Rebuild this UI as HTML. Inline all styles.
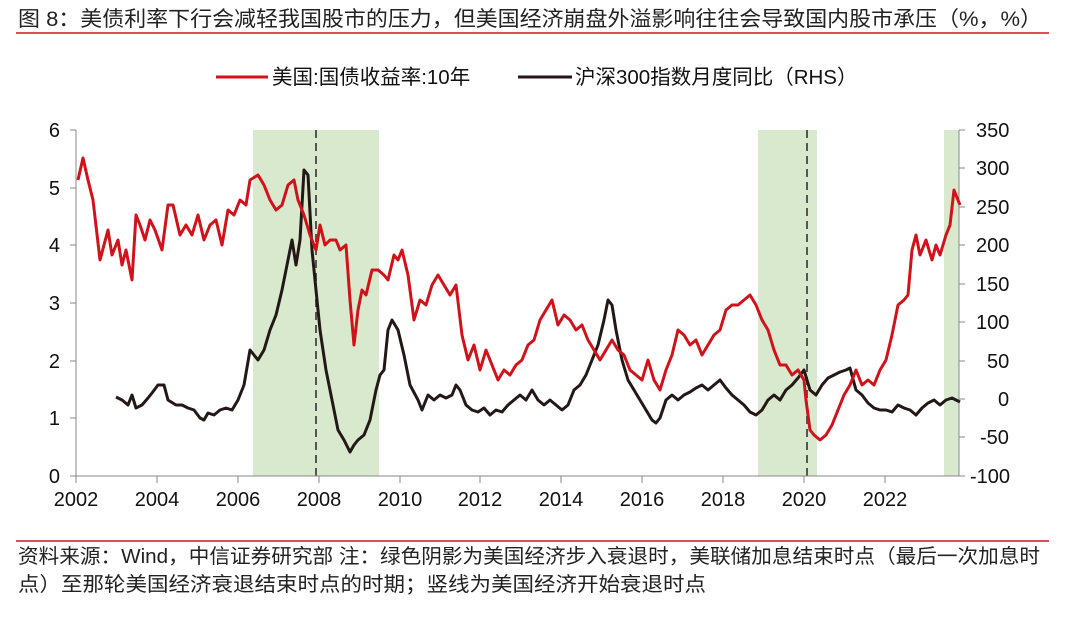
<!DOCTYPE html>
<html><head><meta charset="utf-8"><style>
body{margin:0;background:#fff;width:1080px;height:614px;overflow:hidden;font-family:"Liberation Sans","Noto Sans CJK SC",sans-serif}
svg text{font-family:"Liberation Sans","Noto Sans CJK SC",sans-serif}
</style></head><body>
<svg width="1080" height="614" viewBox="0 0 1080 614" xmlns="http://www.w3.org/2000/svg">
<text x="18" y="26" font-size="21" fill="#222" textLength="1024" lengthAdjust="spacingAndGlyphs">图 8：美债利率下行会减轻我国股市的压力，但美国经济崩盘外溢影响往往会导致国内股市承压（%，%）</text>
<line x1="16" y1="33" x2="1049" y2="33" stroke="#d0121b" stroke-width="1.5"/>
<line x1="216" y1="77" x2="268" y2="77" stroke="#d0121b" stroke-width="3"/>
<text x="272" y="84" font-size="20.5" fill="#111">美国:国债收益率:10年</text>
<line x1="518" y1="77" x2="572" y2="77" stroke="#231815" stroke-width="3"/>
<text x="575" y="84" font-size="20.5" fill="#111">沪深300指数月度同比（RHS）</text>
<rect x="253" y="130" width="126" height="346" fill="#d8e9cd"/>
<rect x="758" y="130" width="59" height="346" fill="#d8e9cd"/>
<rect x="944" y="130" width="15" height="346" fill="#d8e9cd"/>
<line x1="316" y1="130" x2="316" y2="476" stroke="#555" stroke-width="2" stroke-dasharray="8,5"/>
<line x1="807" y1="130" x2="807" y2="476" stroke="#555" stroke-width="2" stroke-dasharray="8,5"/>
<g stroke="#888" stroke-width="1" fill="none">
<line x1="76" y1="130" x2="76" y2="476"/><line x1="959" y1="130" x2="959" y2="476"/><line x1="70" y1="476" x2="965" y2="476"/>
<line x1="70" y1="130" x2="76" y2="130"/><line x1="70" y1="188" x2="76" y2="188"/><line x1="70" y1="245" x2="76" y2="245"/><line x1="70" y1="303" x2="76" y2="303"/><line x1="70" y1="361" x2="76" y2="361"/><line x1="70" y1="418" x2="76" y2="418"/>
<line x1="959" y1="130" x2="965" y2="130"/><line x1="959" y1="168" x2="965" y2="168"/><line x1="959" y1="207" x2="965" y2="207"/><line x1="959" y1="245" x2="965" y2="245"/><line x1="959" y1="284" x2="965" y2="284"/><line x1="959" y1="322" x2="965" y2="322"/><line x1="959" y1="361" x2="965" y2="361"/><line x1="959" y1="399" x2="965" y2="399"/><line x1="959" y1="437" x2="965" y2="437"/>
<line x1="76" y1="476" x2="76" y2="483"/><line x1="157" y1="476" x2="157" y2="483"/><line x1="238" y1="476" x2="238" y2="483"/><line x1="319" y1="476" x2="319" y2="483"/><line x1="400" y1="476" x2="400" y2="483"/><line x1="480" y1="476" x2="480" y2="483"/><line x1="561" y1="476" x2="561" y2="483"/><line x1="642" y1="476" x2="642" y2="483"/><line x1="723" y1="476" x2="723" y2="483"/><line x1="804" y1="476" x2="804" y2="483"/><line x1="885" y1="476" x2="885" y2="483"/>
</g>
<g font-size="20" fill="#111" text-anchor="end">
<text x="60" y="137">6</text><text x="60" y="195">5</text><text x="60" y="252">4</text><text x="60" y="310">3</text><text x="60" y="368">2</text><text x="60" y="425">1</text><text x="60" y="483">0</text>
</g>
<g font-size="20" fill="#111" text-anchor="start">
<text x="976" y="137">350</text><text x="976" y="175">300</text><text x="976" y="214">250</text><text x="976" y="252">200</text><text x="976" y="291">150</text><text x="976" y="329">100</text><text x="987" y="368">50</text><text x="998" y="406">0</text><text x="980" y="444">-50</text><text x="970" y="483">-100</text>
</g>
<g font-size="20" fill="#111" text-anchor="middle">
<text x="76" y="506">2002</text><text x="157" y="506">2004</text><text x="238" y="506">2006</text><text x="319" y="506">2008</text><text x="400" y="506">2010</text><text x="480" y="506">2012</text><text x="561" y="506">2014</text><text x="642" y="506">2016</text><text x="723" y="506">2018</text><text x="804" y="506">2020</text><text x="885" y="506">2022</text>
</g>
<polyline fill="none" stroke="#231815" stroke-width="3" stroke-linejoin="round" points="116,397 122,400 128,405 132,395 136,408 142,405 148,398 152,393 158,385 164,385 168,400 176,405 182,405 188,408 194,410 200,418 204,420 208,413 214,415 220,410 226,408 232,410 238,400 244,385 250,350 254,355 258,360 264,350 270,330 276,315 282,290 288,260 292,240 296,265 300,240 304,170 308,175 312,250 316,290 320,330 326,370 332,400 338,430 344,440 350,452 354,445 358,440 364,435 370,420 376,390 380,375 384,370 388,330 392,320 398,330 404,355 410,385 418,400 422,410 428,395 434,400 440,395 446,398 452,395 456,385 460,390 466,405 472,410 478,412 484,408 490,415 496,410 502,412 508,405 514,400 520,395 526,400 532,390 538,400 544,405 550,400 556,405 562,410 568,405 574,390 580,385 586,375 592,360 598,345 604,320 608,300 612,305 616,330 622,360 628,380 634,390 640,400 646,410 652,420 656,423 660,418 666,400 672,395 678,400 684,395 690,392 696,388 702,385 708,390 714,385 720,380 726,388 732,395 738,400 744,405 750,412 756,415 762,410 768,400 774,395 780,400 786,390 792,385 798,378 804,370 810,390 816,395 822,385 828,378 834,375 840,372 846,370 850,368 856,390 862,395 868,403 874,408 880,410 886,410 892,412 898,405 904,408 910,410 916,415 922,408 928,403 934,400 940,405 946,400 952,398 956,400 960,402"/>
<polyline fill="none" stroke="#d0121b" stroke-width="3" stroke-linejoin="round" points="78,180 83,158 88,180 93,200 100,260 108,230 112,255 118,240 122,265 126,250 132,280 136,215 140,225 145,240 150,220 155,230 162,250 168,205 173,205 180,235 186,225 192,235 198,215 204,240 210,225 216,220 222,245 228,210 234,215 240,200 246,205 250,180 258,175 264,185 270,200 276,210 282,205 288,185 294,180 298,200 304,215 310,235 316,250 320,225 325,245 330,240 336,240 340,250 346,245 350,300 354,345 358,310 362,290 366,295 372,270 378,270 384,275 388,280 394,255 398,260 402,250 408,275 414,320 420,300 426,305 432,285 438,275 444,285 450,295 456,285 462,335 468,360 474,345 480,370 486,350 492,365 498,380 504,370 510,375 516,365 522,360 528,345 534,340 540,320 546,310 552,300 558,325 564,315 570,320 576,330 582,325 588,340 594,350 600,360 606,350 612,340 618,350 624,355 630,370 636,375 642,380 648,360 654,380 660,390 666,370 672,355 678,330 684,335 690,345 696,340 702,355 708,345 714,335 720,330 726,310 732,305 738,305 744,300 750,295 756,305 762,320 768,330 774,350 780,365 786,365 792,375 798,370 804,380 806,400 810,430 814,435 820,440 826,435 832,425 838,410 844,395 850,385 856,370 862,385 868,380 874,385 880,370 886,360 892,335 898,305 904,300 908,295 912,250 916,235 920,255 926,240 932,260 936,245 940,255 946,235 950,225 954,190 960,205"/>
<line x1="16" y1="541" x2="1049" y2="541" stroke="#d0121b" stroke-width="1.5"/>
<text x="18" y="563" font-size="20" fill="#222" textLength="1022" lengthAdjust="spacingAndGlyphs">资料来源：Wind，中信证券研究部  注：绿色阴影为美国经济步入衰退时，美联储加息结束时点（最后一次加息时</text>
<text x="18" y="591" font-size="20" fill="#222" textLength="688" lengthAdjust="spacingAndGlyphs">点）至那轮美国经济衰退结束时点的时期；竖线为美国经济开始衰退时点</text>
</svg>
</body></html>
